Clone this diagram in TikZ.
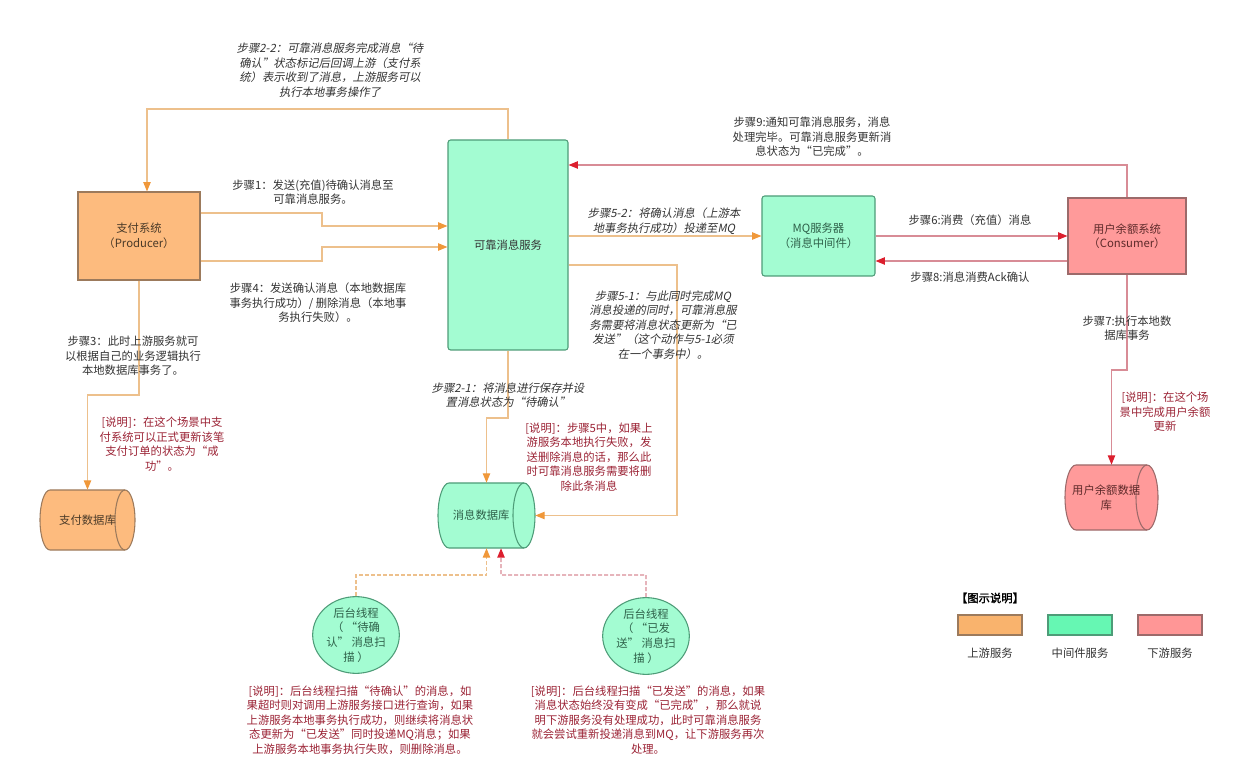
\documentclass[tikz,border=0pt]{standalone}
\usepackage{fontspec}
\setmainfont{Noto Sans CJK SC}
\newfontfamily\itfont[FakeSlant=0.2]{Noto Sans CJK SC}
\newfontfamily\bfcjk[FakeBold=2]{Noto Sans CJK SC}
\usetikzlibrary{arrows.meta,shapes.geometric}
\definecolor{lblgray}{HTML}{333333}
\definecolor{notered}{HTML}{9B2335}
\definecolor{ofill}{HTML}{FDBB7E}
\definecolor{oborder}{HTML}{9C7A5C}
\definecolor{otext}{HTML}{4A3A28}
\definecolor{gfill}{HTML}{A3FCD2}
\definecolor{gborder}{HTML}{4E9C78}
\definecolor{gtext}{HTML}{2E6049}
\definecolor{pfill}{HTML}{FF9A9A}
\definecolor{pborder}{HTML}{9C6A6A}
\definecolor{ptext}{HTML}{5E2A2A}
\definecolor{oline}{HTML}{EDC08C}
\definecolor{otip}{HTML}{F0983A}
\definecolor{rline}{HTML}{D88C96}
\definecolor{rtip}{HTML}{DC1F2E}
\definecolor{legor}{HTML}{F9B36D}
\definecolor{leggr}{HTML}{66F7B3}
\definecolor{legpk}{HTML}{FF9696}
\newcommand\lblsize{\fontsize{8.5pt}{10.9pt}\selectfont}
\newcommand\cylshape[6]{%
  \filldraw[#6] (#3-#5,#2) -- (#1+#5,#2)
    arc[start angle=-90, end angle=-270, x radius=#5, y radius={(#4-#2)/2}]
    -- (#3-#5,#4)
    arc[start angle=90, end angle=-90, x radius=#5, y radius={(#4-#2)/2}]
    -- cycle;
  \draw[#6, fill=none] (#3-#5,#4)
    arc[start angle=90, end angle=270, x radius=#5, y radius={(#4-#2)/2}];
}
\tikzset{
  lbl/.style={font=\lblsize, text=lblgray, align=center, inner sep=0pt},
  itl/.style={lbl, font=\lblsize\itfont},
  note/.style={lbl, text=notered},
  box/.style={draw, line width=0.8pt, font=\lblsize, align=center, inner sep=0pt},
  obox/.style={box, fill=ofill, draw=oborder, text=otext},
  gbox/.style={box, fill=gfill, draw=gborder, rounded corners=2pt, text=gtext},
  pbox/.style={box, fill=pfill, draw=pborder, text=ptext},
  ocyl/.style={fill=ofill, draw=oborder, line width=0.8pt},
  gcyl/.style={fill=gfill, draw=gborder, line width=0.8pt},
  pcyl/.style={fill=pfill, draw=pborder, line width=0.8pt},
  holder/.style={inner sep=0pt, font=\lblsize, align=center},
  oarr/.style={draw=oline, line width=0.9pt, -{Triangle[color=otip, length=7pt, width=5.5pt]}},
  rarr/.style={draw=rline, line width=0.9pt, -{Triangle[color=rtip, length=7pt, width=5.5pt]}},
  odash/.style={oarr, dash pattern=on 3pt off 1.5pt},
  rdash/.style={rarr, dash pattern=on 3pt off 1.5pt},
  legbox/.style={draw, line width=0.8pt, minimum width=48pt, minimum height=15pt, inner sep=0pt},
}
\begin{document}
\begin{tikzpicture}[x=0.75pt, y=-0.75pt]
\useasboundingbox (0,0) rectangle (1240,784);

% main boxes
\node[obox, minimum width=91.5pt, minimum height=66pt] (pay) at (139,236) {支付系统\\（Producer）};
\node[gbox, minimum width=90pt, minimum height=157.5pt, text=lblgray] (rel) at (508,245) {可靠消息服务};
\node[gbox, minimum width=84.75pt, minimum height=60pt] (mq) at (818.5,236) {MQ服务器\\（消息中间件）};
\node[pbox, minimum width=88.5pt, minimum height=57pt] (cons) at (1127,236) {用户余额系统\\（Consumer）};

% cylinders
\cylshape{40}{490}{135}{550}{10}{ocyl}
\node[holder, minimum width=71.25pt, minimum height=45pt, text=otext] (paydb) at (87.5,520) {支付数据库};
\cylshape{438}{483}{535}{548}{11}{gcyl}
\node[holder, minimum width=72.75pt, minimum height=48.75pt, text=gtext] (msgdb) at (486.5,515.5) {\hspace*{-8pt}消息数据库};
\cylshape{1065}{465}{1158}{530}{11}{pcyl}
\node[holder, minimum width=69.75pt, minimum height=48.75pt, text=ptext] (userdb) at (1111.5,497.5) {\hspace*{-8pt}用户余额数据\\\hspace*{-8pt}库};

% scanner ellipses
\node[ellipse, draw=gborder, fill=gfill, line width=0.8pt, minimum width=65pt, minimum height=49.5pt, inner sep=0pt, font=\lblsize, align=center, text=gtext] (scan1) at (356,635) {后台线程\\（ “待确\\认” 消息扫\\描 ）};
\node[ellipse, draw=gborder, fill=gfill, line width=0.8pt, minimum width=65pt, minimum height=49.5pt, inner sep=0pt, font=\lblsize, align=center, text=gtext] (scan2) at (646,636) {后台线程\\（ “已发\\送” 消息扫\\描 ）};

% connectors
\draw[oarr] (rel.north) -- (508,109) -- (147,109) -- ([xshift=6pt]pay.north);
\draw[oarr] ([yshift=17.25pt]pay.east) -- (322,213) -- (322,226) -- (rel.west |- 0,226);
\draw[oarr] ([yshift=-18.75pt]pay.east) -- (322,261) -- (322,247) -- (rel.west |- 0,247);
\draw[oarr] (pay.south) -- (139,395) -- (87.5,395) -- (paydb.north);
\draw[oarr] (rel.south) -- (508,418) -- (486.5,418) -- (msgdb.north);
\draw[oarr] ([yshift=-15pt]rel.east) -- (677,265) -- (677,515.5) -- (msgdb.east);
\draw[oarr] (rel.east |- mq.west) -- (mq.west);
\draw[rarr] (mq.east) -- (cons.west);
\draw[rarr] ([yshift=-18.75pt]cons.west) -- (mq.east |- 0,261);
\draw[rarr] (cons.north) -- (1127,165) -- (rel.east |- 0,165);
\draw[rarr] (cons.south) -- (1127,370) -- (1111.5,370) -- (userdb.north);
\draw[odash] (scan1.north) -- (356,575) -- (486.5,575) -- (msgdb.south);
\draw[rdash] (scan2.north) -- (646,575) -- (501,575) -- ([xshift=10.9pt]msgdb.south);

% labels
\node[itl] (l22) at (330,70) {步骤2-2：可靠消息服务完成消息“待\\确认”状态标记后回调上游（支付系\\统）表示收到了消息，上游服务可以\\执行本地事务操作了};
\node[lbl] (l1) at (313,192) {步骤1：发送(充值)待确认消息至\\可靠消息服务。};
\node[lbl] (l4) at (318,303) {步骤4：发送确认消息（本地数据库\\事务执行成功）/ 删除消息（本地事\\务执行失败）。};
\node[lbl] (l3) at (133,356) {步骤3：此时上游服务就可\\以根据自己的业务逻辑执行\\本地数据库事务了。};
\node[note] (n1) at (162,444) {[说明]：在这个场景中支\\付系统可以正式更新该笔\\支付订单的状态为“成\\功”。};
\node[itl] (l21) at (508,395) {步骤2-1：将消息进行保存并设\\置消息状态为“待确认”};
\node[note] (n2) at (589,457) {[说明]：步骤5中，如果上\\游服务本地执行失败，发\\送删除消息的话，那么此\\时可靠消息服务需要将删\\除此条消息};
\node[itl] (l52) at (664,221) {步骤5-2：将确认消息（上游本\\地事务执行成功）投递至MQ};
\node[itl] (l51) at (663,325) {步骤5-1：与此同时完成MQ\\消息投递的同时，可靠消息服\\务需要将消息状态更新为“已\\发送”（这个动作与5-1必须\\在一个事务中）。};
\node[lbl] (l9) at (812,137) {步骤9:通知可靠消息服务，消息\\处理完毕。可靠消息服务更新消\\息状态为“已完成”。};
\node[lbl] (l6) at (970,220) {步骤6:消费（充值）消息};
\node[lbl] (l8) at (970,277) {步骤8:消息消费Ack确认};
\node[lbl] (l7) at (1127,328) {步骤7:执行本地数\\据库事务};
\node[note] (n3) at (1165,412) {[说明]：在这个场\\景中完成用户余额\\更新};
\node[note] (n4) at (360,720) {[说明]：后台线程扫描“待确认”的消息，如\\果超时则对调用上游服务接口进行查询，如果\\上游服务本地事务执行成功，则继续将消息状\\态更新为“已发送”同时投递MQ消息；如果\\上游服务本地事务执行失败，则删除消息。};
\node[note] (n5) at (648,720) {[说明]：后台线程扫描“已发送”的消息，如果\\消息状态始终没有变成“已完成”，那么就说\\明下游服务没有处理成功，此时可靠消息服务\\就会尝试重新投递消息到MQ，让下游服务再次\\处理。};

% legend
\node[lbl, font=\lblsize\bfcjk, text=black] (legt) at (990,598) {【图示说明】};
\node[legbox, fill=legor, draw=oborder] (lego) at (990,625) {};
\node[legbox, fill=leggr, draw=gborder] (legg) at (1080,625) {};
\node[legbox, fill=legpk, draw=pborder] (legp) at (1170,625) {};
\node[lbl] (lego-t) at (990,653) {上游服务};
\node[lbl] (legg-t) at (1080,653) {中间件服务};
\node[lbl] (legp-t) at (1170,653) {下游服务};
\end{tikzpicture}
\end{document}
